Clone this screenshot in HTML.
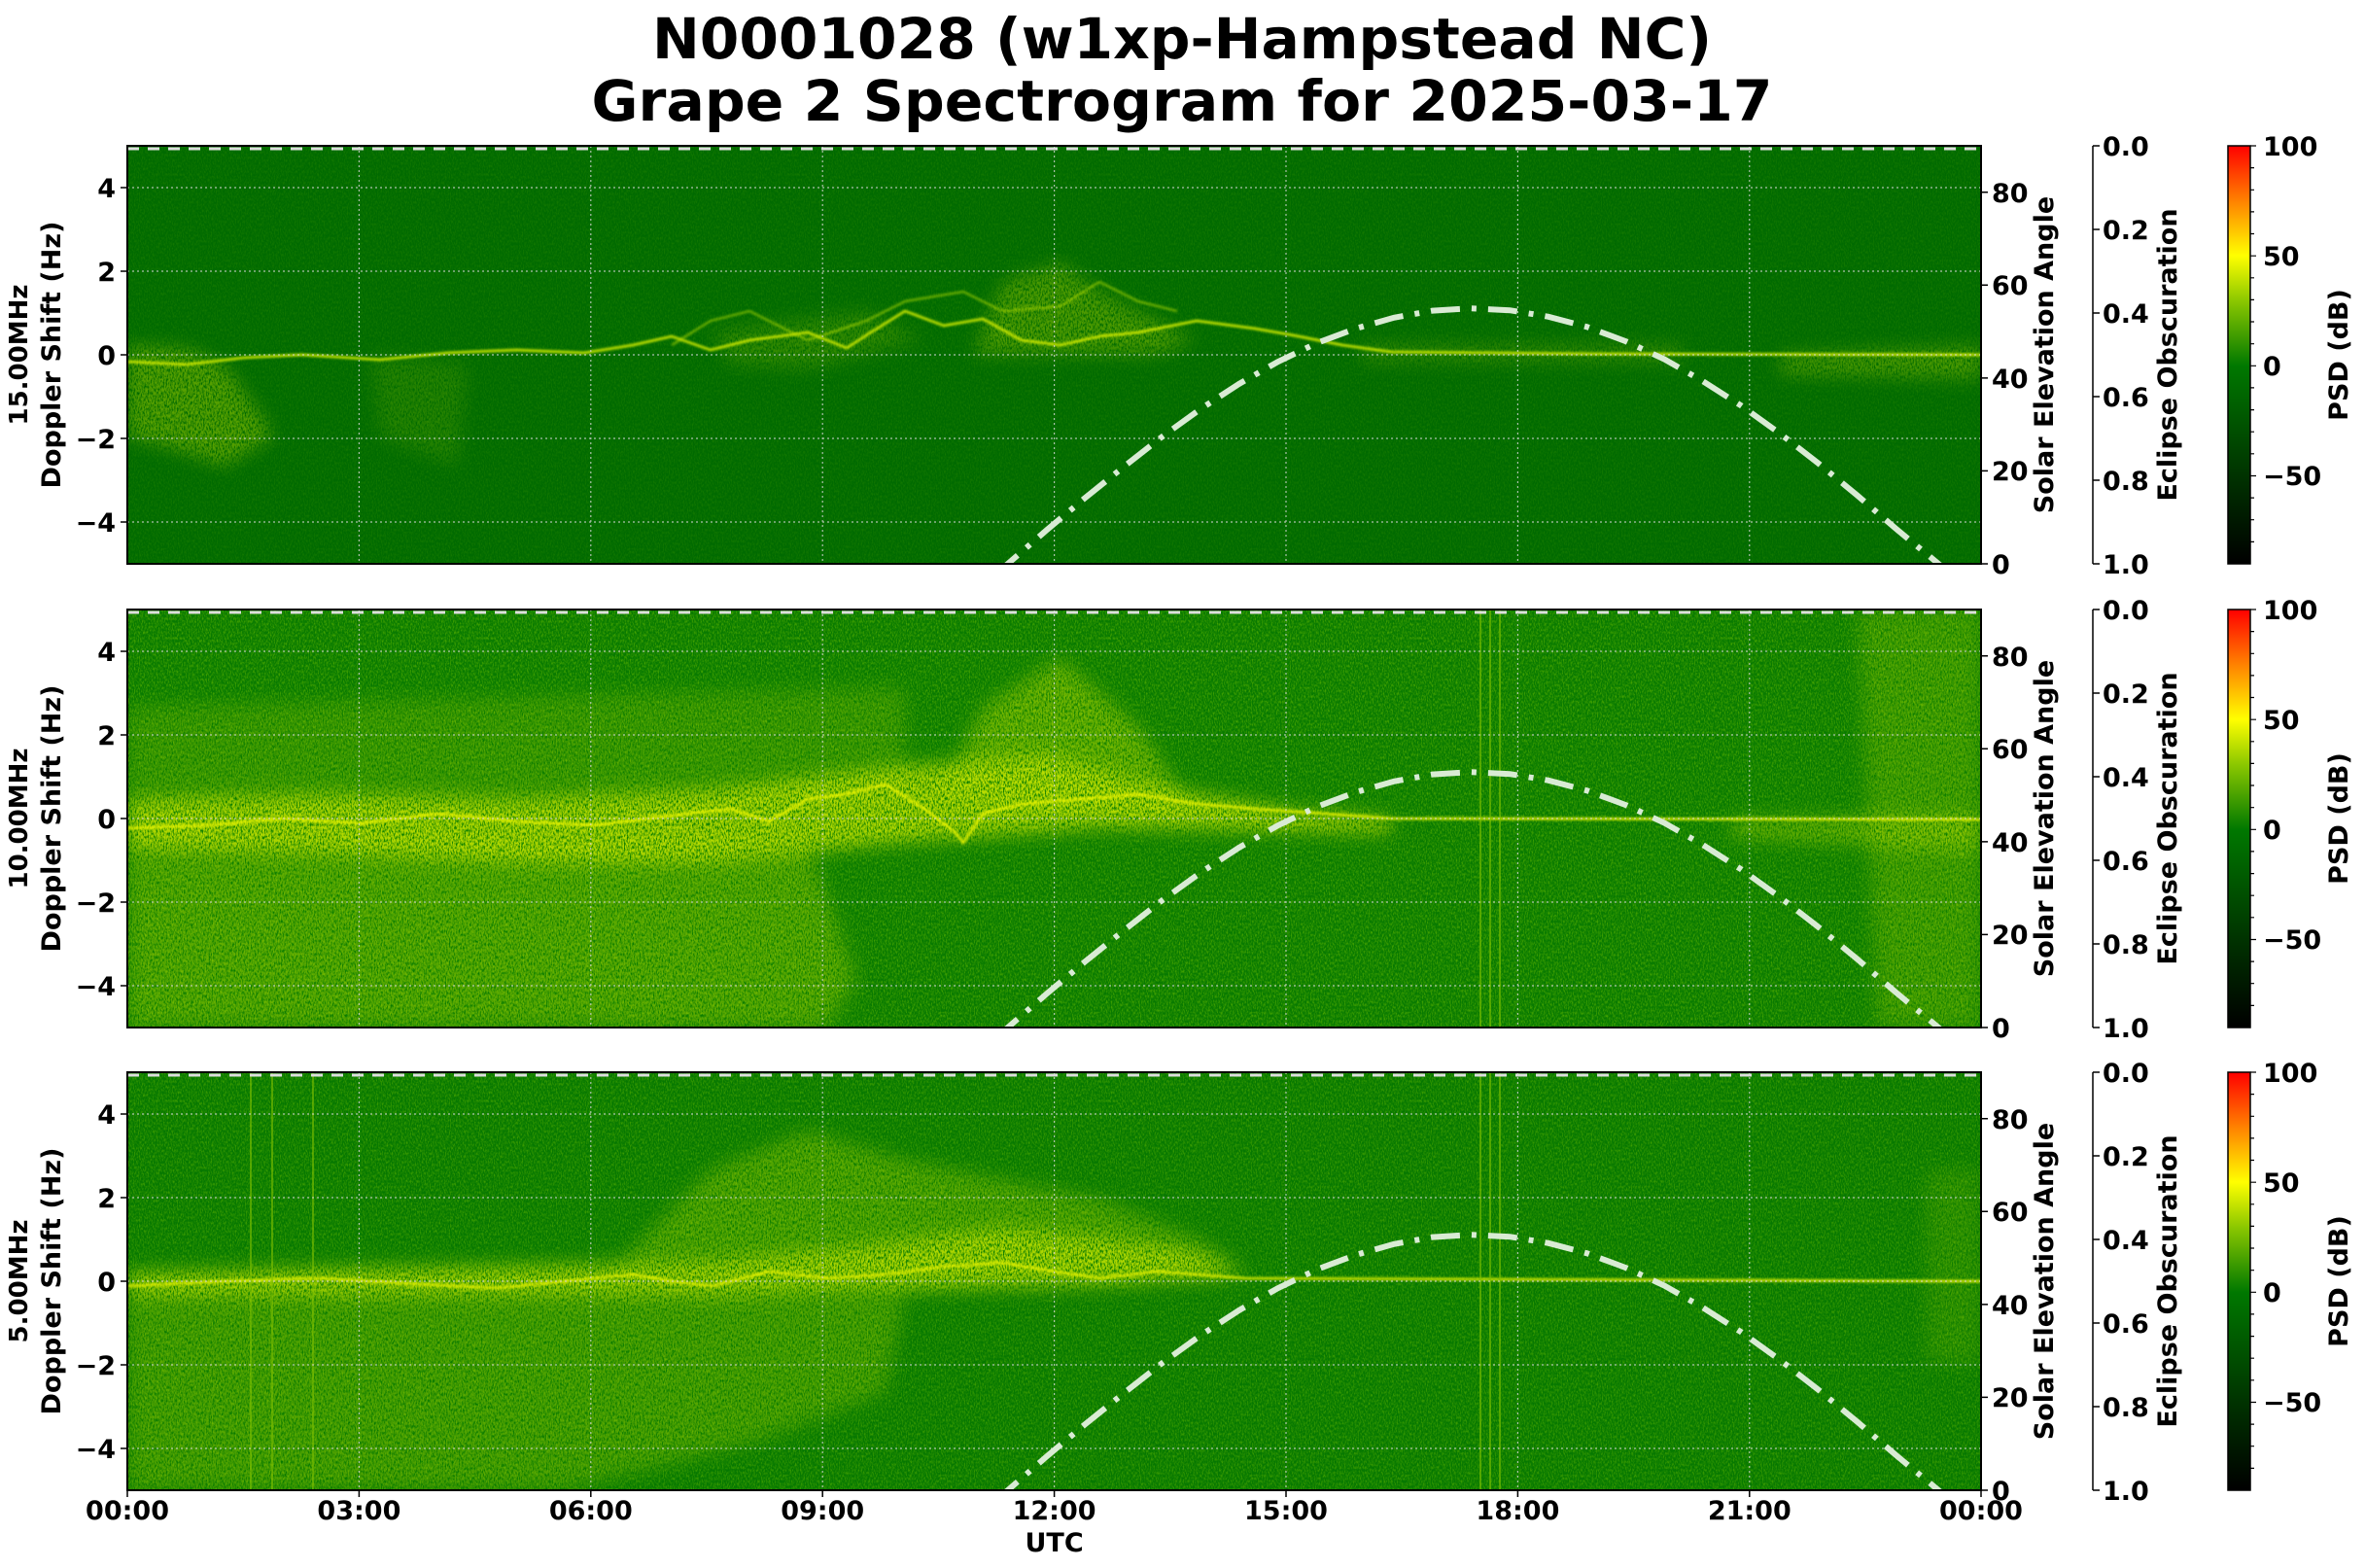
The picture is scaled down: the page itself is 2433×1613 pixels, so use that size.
<!DOCTYPE html>
<html><head><meta charset="utf-8"><style>
html,body{margin:0;padding:0;background:#fff}
svg{display:block}
text{font-family:"DejaVu Sans","Liberation Sans",sans-serif;font-weight:bold;fill:#000}
</style></head><body>
<svg width="2433" height="1613" viewBox="0 0 2433 1613" xmlns="http://www.w3.org/2000/svg">
<defs>
<filter id="spk" x="-5%" y="-5%" width="110%" height="110%">
<feGaussianBlur in="SourceGraphic" stdDeviation="9" result="b"/>
<feTurbulence type="fractalNoise" baseFrequency="0.7 0.3" numOctaves="2" seed="4" result="n"/>
<feColorMatrix in="n" type="matrix" values="0 0 0 0 0 0 0 0 0 0 0 0 0 0 0 0 0 0 3.2 -0.9" result="na"/>
<feComposite in="b" in2="na" operator="in"/>
</filter>
<filter id="tex" x="0" y="0" width="100%" height="100%">
<feTurbulence type="fractalNoise" baseFrequency="0.8 0.35" numOctaves="2" seed="9" result="n"/>
<feColorMatrix in="n" type="matrix" values="0 0 0 0 0.35 0 0 0 0 0.75 0 0 0 0 0 0 0 0 2.5 -1.0"/>
</filter>
<filter id="sb"><feGaussianBlur stdDeviation="1.2"/></filter>
<linearGradient id="cb" x1="0" y1="0" x2="0" y2="1">
<stop offset="0" stop-color="#ff0000"/><stop offset="0.13" stop-color="#ff8000"/>
<stop offset="0.263" stop-color="#ffff00"/><stop offset="0.37" stop-color="#8cc800"/>
<stop offset="0.526" stop-color="#007800"/><stop offset="0.8" stop-color="#003000"/>
<stop offset="1" stop-color="#000000"/></linearGradient>
<clipPath id="pc"><rect x="0" y="0" width="1907" height="430"/></clipPath>
<g id="over">
<g stroke="#d8d8d8" stroke-width="1.2" stroke-dasharray="2,3" fill="none" opacity="0.8">
<path d="M0,43H1907M0,129H1907M0,215H1907M0,301H1907M0,387H1907"/>
<path d="M238.4,0V430M476.8,0V430M715.2,0V430M953.6,0V430M1192,0V430M1430.4,0V430M1668.8,0V430"/>
</g>
<path d="M0,3H1907" stroke="#dddddd" stroke-width="3" stroke-dasharray="12,9"/>
<polyline clip-path="url(#pc)" fill="none" stroke="#d9ebd4" stroke-width="6" stroke-dasharray="30,12,5,12" points="849,480 905.8,430 945.5,395.5 985.3,362.2 1025,330.2 1064.7,299.1 1104.5,270.4 1144.2,244.6 1183.9,222 1223.6,203 1263.4,188 1303.1,176.8 1342.8,169.6 1382.6,167.2 1422.3,169.2 1462,175.8 1501.7,186.3 1541.5,201.1 1581.2,219.5 1620.9,242.2 1660.7,267.6 1700.4,296.2 1740.1,327 1779.9,359.8 1819.6,394 1863.3,430 1900,462"/>
<rect x="0" y="0" width="1907" height="430" fill="none" stroke="#000" stroke-width="2"/>
<g stroke="#000" stroke-width="1.5">
<path d="M0,43h-7M0,129h-7M0,215h-7M0,301h-7M0,387h-7"/>
<path d="M1907,430h7M1907,334.4h7M1907,238.9h7M1907,143.3h7M1907,47.8h7"/>
</g>
<g font-size="27" text-anchor="end">
<text x="-12" y="53">4</text><text x="-12" y="139">2</text><text x="-12" y="225">0</text>
<text x="-12" y="311">−2</text><text x="-12" y="397">−4</text></g>
<g font-size="27">
<text x="1918" y="440">0</text><text x="1918" y="344">20</text><text x="1918" y="249">40</text>
<text x="1918" y="153">60</text><text x="1918" y="58">80</text></g>
<text font-size="27" text-anchor="middle" transform="translate(1981,215) rotate(-90)">Solar Elevation Angle</text>
<path d="M2022,0V430" stroke="#000" stroke-width="1.5"/>
<g stroke="#000" stroke-width="1.5"><path d="M2022,0h7M2022,86h7M2022,172h7M2022,258h7M2022,344h7M2022,430h7"/></g>
<g font-size="27"><text x="2032" y="10">0.0</text><text x="2032" y="96">0.2</text><text x="2032" y="182">0.4</text><text x="2032" y="268">0.6</text><text x="2032" y="354">0.8</text><text x="2032" y="440">1.0</text></g>
<text font-size="27" text-anchor="middle" transform="translate(2108,215) rotate(-90)">Eclipse Obscuration</text>
<rect x="2161" y="0" width="23" height="430" fill="url(#cb)" stroke="#000" stroke-width="1.5"/>
<g stroke="#000" stroke-width="1.2"><path d="M2184,0h6M2184,22.6h4M2184,45.3h4M2184,67.9h4M2184,90.5h4M2184,113.2h6M2184,135.8h4M2184,158.4h4M2184,181h4M2184,203.7h4M2184,226.3h6M2184,248.9h4M2184,271.6h4M2184,294.2h4M2184,316.8h4M2184,339.5h6M2184,362.1h4M2184,384.7h4M2184,407.4h4"/></g>
<g font-size="27"><text x="2197" y="10">100</text><text x="2197" y="123">50</text><text x="2197" y="236">0</text><text x="2197" y="349">−50</text></g>
<text font-size="27" text-anchor="middle" transform="translate(2284,215) rotate(-90)">PSD (dB)</text>
</g>
</defs>
<text x="1216" y="60" font-size="58" text-anchor="middle" textLength="1090" lengthAdjust="spacingAndGlyphs">N0001028 (w1xp-Hampstead NC)</text>
<text x="1216" y="124" font-size="58" text-anchor="middle" textLength="1215" lengthAdjust="spacingAndGlyphs">Grape 2 Spectrogram for 2025-03-17</text>

<!-- Panel 1 -->
<g transform="translate(131,150)">
<rect width="1907" height="430" fill="#006a00"/>
<rect width="1907" height="430" filter="url(#tex)" opacity="0.12"/>
<g clip-path="url(#pc)">
<g filter="url(#spk)" fill="#b8dc00">
<polygon points="0,205 60,208 100,225 140,280 150,300 100,330 40,310 0,300" opacity="0.45"/>
<polygon points="250,215 350,225 340,330 260,300" opacity="0.18"/>
<polygon points="870,215 900,140 960,120 1000,150 1060,180 1100,200 1060,215" opacity="0.4"/>
<polygon points="1270,205 1600,205 1600,222 1270,222" opacity="0.3"/>
<polygon points="1700,215 1907,205 1907,240 1700,235" opacity="0.4"/>
<polygon points="600,190 760,170 820,200 700,230 620,225" opacity="0.25"/>
</g>
<path d="M0,222 L60,225 L120,218 L180,215 L260,220 L330,213 L400,210 L470,213 L520,205 L560,196 L600,210 L640,200 L700,192 L740,208 L760,195 L800,170 L840,185 L880,178 L920,200 L960,205 L1000,196 L1040,192 L1100,180 L1160,188 L1200,195 L1250,205 L1300,212 L1400,213 L1500,214 L1907,215" fill="none" stroke="#d8f000" stroke-width="2.5" filter="url(#sb)"/>
<path d="M560,205 L600,180 L640,170 L700,200 L760,180 L800,160 L860,150 L900,170 L960,165 L1000,140 L1040,160 L1080,170" fill="none" stroke="#b8e000" stroke-width="2" opacity="0.7" filter="url(#sb)"/>
</g>
<use href="#over"/>
</g>
<text font-size="26" text-anchor="middle" transform="translate(28,365) rotate(-90)">15.00MHz</text>
<text font-size="27" text-anchor="middle" transform="translate(62,365) rotate(-90)">Doppler Shift (Hz)</text>

<!-- Panel 2 -->
<g transform="translate(131,627)">
<rect width="1907" height="430" fill="#087a00"/>
<rect width="1907" height="430" filter="url(#tex)" opacity="0.4"/>
<g clip-path="url(#pc)">
<g filter="url(#spk)" fill="#c8e400">
<polygon points="0,100 800,80 800,200 0,200" opacity="0.25"/>
<polygon points="0,230 700,240 750,380 720,430 200,430 0,430" opacity="0.4"/>
<polygon points="0,195 200,190 400,195 600,185 800,160 950,150 1050,180 1200,205 1300,215 1300,230 1000,225 800,240 600,260 400,260 200,250 0,245" opacity="0.85"/>
<polygon points="830,200 880,100 960,50 1040,120 1080,180 1100,210" opacity="0.5"/>
<polygon points="1780,0 1907,0 1907,430 1800,430" opacity="0.3"/>
<polygon points="1650,215 1907,210 1907,250 1650,235" opacity="0.45"/>
</g>
<path d="M0,225 L80,222 L160,215 L240,220 L320,210 L400,218 L480,222 L560,212 L620,205 L660,218 L700,195 L740,190 L780,180 L820,205 L850,228 L860,240 L880,210 L920,200 L980,195 L1040,190 L1100,200 L1160,205 L1300,215 L1907,216" fill="none" stroke="#e8f400" stroke-width="2.5" filter="url(#sb)"/>
<g stroke="#7fc000" stroke-width="2" opacity="0.6"><path d="M1392,0V430M1402,0V430M1412,0V430"/></g>
</g>
<use href="#over"/>
</g>
<text font-size="26" text-anchor="middle" transform="translate(28,842) rotate(-90)">10.00MHz</text>
<text font-size="27" text-anchor="middle" transform="translate(62,842) rotate(-90)">Doppler Shift (Hz)</text>

<!-- Panel 3 -->
<g transform="translate(131,1103)">
<rect width="1907" height="430" fill="#067800"/>
<rect width="1907" height="430" filter="url(#tex)" opacity="0.35"/>
<g clip-path="url(#pc)">
<g filter="url(#spk)" fill="#c0e000">
<polygon points="0,225 800,230 780,330 650,380 450,430 0,430" opacity="0.35"/>
<polygon points="500,200 600,100 700,60 800,90 900,110 1000,130 1100,170 1150,200" opacity="0.4"/>
<polygon points="0,205 300,200 600,195 750,180 900,160 1000,170 1100,185 1150,210 1000,220 800,225 600,230 300,230 0,230" opacity="0.85"/>
<polygon points="1850,100 1907,100 1907,300 1850,300" opacity="0.2"/>
</g>
<path d="M0,220 L100,215 L200,212 L300,218 L380,222 L460,214 L520,208 L560,215 L600,220 L660,205 L720,212 L780,208 L840,200 L900,196 L960,206 L1000,212 L1060,205 L1150,212 L1907,215" fill="none" stroke="#e0f000" stroke-width="2.5" filter="url(#sb)"/>
<g stroke="#7fc000" stroke-width="2" opacity="0.6"><path d="M127,0V430M149,0V430M191,0V430M1392,0V430M1402,0V430M1412,0V430"/></g>
</g>
<use href="#over"/>
<g stroke="#000" stroke-width="1.5"><path d="M0,430v7M238.4,430v7M476.8,430v7M715.2,430v7M953.6,430v7M1192,430v7M1430.4,430v7M1668.8,430v7M1907,430v7"/></g>
<g font-size="27" text-anchor="middle">
<text x="0" y="460">00:00</text><text x="238.4" y="460">03:00</text><text x="476.8" y="460">06:00</text><text x="715.2" y="460">09:00</text><text x="953.6" y="460">12:00</text><text x="1192" y="460">15:00</text><text x="1430.4" y="460">18:00</text><text x="1668.8" y="460">21:00</text><text x="1907" y="460">00:00</text>
</g>
<text x="953.6" y="493" font-size="27" text-anchor="middle">UTC</text>
</g>
<text font-size="26" text-anchor="middle" transform="translate(28,1318) rotate(-90)">5.00MHz</text>
<text font-size="27" text-anchor="middle" transform="translate(62,1318) rotate(-90)">Doppler Shift (Hz)</text>
</svg>
</body></html>
